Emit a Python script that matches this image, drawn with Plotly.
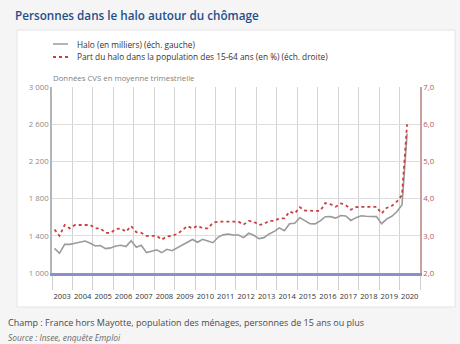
import plotly.graph_objects as go

# Quarterly data 2003Q1 .. 2020Q2
years = list(range(2003, 2021))
quarters = [f"{y}-{m:02d}-15" for y in years for m in (2, 5, 8, 11)][:70]

halo_milliers = [
    1265, 1212, 1308, 1308,   # 2003
    1320, 1335, 1344, 1320,   # 2004
    1290, 1295, 1262, 1270,   # 2005
    1290, 1298, 1285, 1348,   # 2006
    1276, 1298, 1219, 1235,   # 2007
    1250, 1219, 1255, 1240,   # 2008
    1270, 1300, 1330, 1360,   # 2009
    1330, 1362, 1345, 1326,   # 2010
    1384, 1410, 1419, 1408,   # 2011
    1408, 1380, 1427, 1405,   # 2012
    1370, 1380, 1420, 1448,   # 2013
    1485, 1455, 1530, 1534,   # 2014
    1595, 1560, 1530, 1528,   # 2015
    1560, 1605, 1606, 1590,   # 2016
    1618, 1613, 1565, 1595,   # 2017
    1616, 1610, 1606, 1606,   # 2018
    1530, 1580, 1610, 1658,   # 2019
    1735, 2500,               # 2020
]

part_halo = [
    3.17, 3.00, 3.29, 3.20,
    3.29, 3.29, 3.29, 3.29,
    3.20, 3.20, 3.08, 3.08,
    3.18, 3.20, 3.11, 3.26,
    3.10, 3.08, 3.00, 3.00,
    3.00, 2.90, 2.98, 3.00,
    3.05, 3.15, 3.26, 3.20,
    3.27, 3.20, 3.20, 3.35,
    3.38, 3.38, 3.38, 3.38,
    3.38, 3.30, 3.40, 3.38,
    3.29, 3.32, 3.40, 3.40,
    3.47, 3.47, 3.65, 3.60,
    3.77, 3.68, 3.67, 3.67,
    3.67, 3.88, 3.85, 3.78,
    3.87, 3.83, 3.70, 3.77,
    3.78, 3.78, 3.78, 3.78,
    3.60, 3.75, 3.80, 3.92,
    4.10, 6.00,
]

series_names = [
    "Halo (en milliers) (éch. gauche)",
    "Part du halo dans la population des 15-64 ans (en %) (éch. droite)",
]
series_colors = ["#9a9a9a", "#c8413f"]
series_dash = ["solid", "dot"]

left_ticks = [1000, 1400, 1800, 2200, 2600, 3000]
left_labels = ["1 000", "1 400", "1 800", "2 200", "2 600", "3 000"]
right_ticks = [2, 3, 4, 5, 6, 7]
right_labels = ["2,0", "3,0", "4,0", "5,0", "6,0", "7,0"]

FONT = "Open Sans"

fig = go.Figure()
fig.add_trace(go.Scatter(
    x=quarters, y=halo_milliers, mode="lines",
    name=series_names[0],
    line=dict(color=series_colors[0], width=1.6, dash=series_dash[0]),
    yaxis="y",
))
fig.add_trace(go.Scatter(
    x=quarters, y=part_halo, mode="lines",
    name=series_names[1],
    line=dict(color=series_colors[1], width=1.8, dash=series_dash[1]),
    yaxis="y2",
))

W, H = 460, 344
L, R, T, B = 52, 420, 87, 273
pw, ph = R - L, B - T

def px(x):
    return (x - L) / pw

def py(y):
    return (B - y) / ph

shapes = [dict(
    type="rect", xref="paper", yref="paper", layer="below",
    x0=px(17), x1=px(455), y0=py(307), y1=py(30),
    fillcolor="white", line=dict(color="#e4e4e4", width=1),
)]
annotations = [
    dict(text="Personnes dans le halo autour du chômage",
         xref="paper", yref="paper", x=px(13), y=py(15),
         xanchor="left", yanchor="middle", showarrow=False,
         font=dict(size=11.7, color="#1f4f8b", family=FONT, weight=600)),
    dict(text="Données CVS en moyenne trimestrielle",
         xref="paper", yref="paper", x=px(51), y=py(78),
         xanchor="left", yanchor="middle", showarrow=False,
         font=dict(size=7.8, color="#808080")),
    dict(text="Champ : France hors Mayotte, population des ménages, personnes de 15 ans ou plus",
         xref="paper", yref="paper", x=px(6), y=py(322),
         xanchor="left", yanchor="middle", showarrow=False,
         font=dict(size=9, color="#4a4a4a")),
    dict(text="<i>Source : Insee, enquête Emploi</i>",
         xref="paper", yref="paper", x=px(6), y=py(337),
         xanchor="left", yanchor="middle", showarrow=False,
         font=dict(size=8.4, color="#6a6a6a")),
]

# manual compact legend
for i, (nm, col, ds) in enumerate(zip(series_names, series_colors, series_dash)):
    yy = 44 + 13 * i
    shapes.append(dict(
        type="line", xref="paper", yref="paper",
        x0=px(53), x1=px(68), y0=py(yy), y1=py(yy),
        line=dict(color=col, width=1.5 if i == 0 else 1.8, dash=ds),
    ))
    annotations.append(dict(
        text=nm, xref="paper", yref="paper", x=px(75), y=py(yy),
        xanchor="left", yanchor="middle", showarrow=False,
        font=dict(size=8.3, color="#333333"),
    ))

fig.update_layout(
    width=W, height=H,
    margin=dict(l=L, r=W - R, t=T, b=H - B),
    paper_bgcolor="#f5f5f5",
    plot_bgcolor="white",
    font=dict(family=FONT, color="#333333", size=9),
    showlegend=False,
    xaxis=dict(
        type="date",
        range=["2003-01-01", "2021-01-01"],
        tick0="2003-01-01", dtick="M12",
        tickformat="%Y", ticklabelmode="period", tickangle=0,
        showgrid=True, gridcolor="#d4d4d4", gridwidth=1,
        ticks="outside", ticklen=14, tickcolor="#d0d0d0", tickwidth=1,
        tickfont=dict(size=7.6, color="#333333"),
        showline=True, linecolor="#8e8ecc", linewidth=2.5,
        zeroline=False, fixedrange=True,
    ),
    yaxis=dict(
        range=[1000, 3000], tickvals=left_ticks, ticktext=left_labels,
        showgrid=True, gridcolor="#dedede", gridwidth=1,
        tickfont=dict(size=7.8, color="#8a8a8a"),
        showline=True, linecolor="#b4b4b4", linewidth=1.5,
        ticks="", zeroline=False,
    ),
    yaxis2=dict(
        range=[2, 7], tickvals=right_ticks, ticktext=right_labels,
        overlaying="y", side="right", showgrid=False,
        tickfont=dict(size=7.8, color="#b05a5a"),
        showline=True, linecolor="#c9a0a0", linewidth=1.5,
        ticks="", zeroline=False,
    ),
    shapes=shapes,
    annotations=annotations,
)

fig.write_html("out.html")
